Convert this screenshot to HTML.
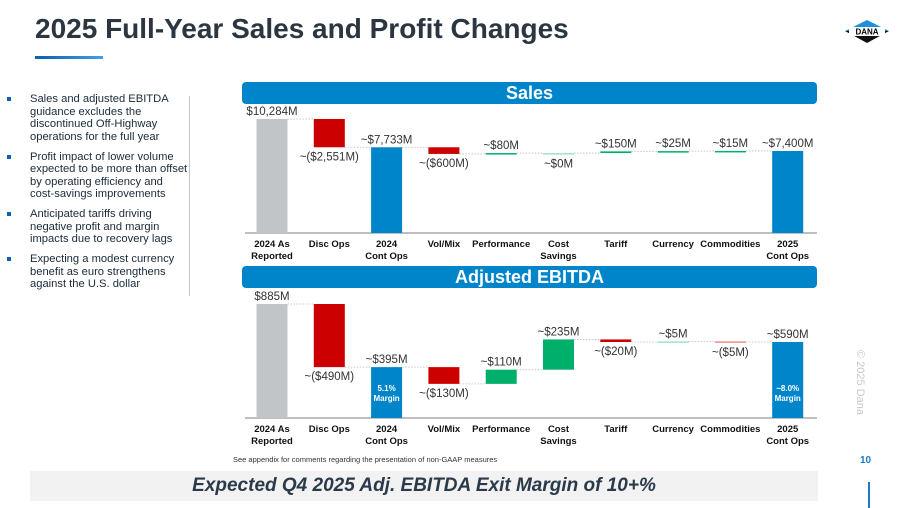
<!DOCTYPE html>
<html><head><meta charset="utf-8">
<style>
body{margin:0;width:900px;height:506px;overflow:hidden;background:#fff;font-family:"Liberation Sans",Arial,sans-serif;position:relative}
.abs{position:absolute}
#title{left:35px;top:13px;font-size:28px;font-weight:bold;color:#2b3640;white-space:nowrap}
#uline{left:35px;top:56px;width:68px;height:3px;background:linear-gradient(90deg,#0a5fb4,#3fa0e8)}
#bullets{left:7px;top:93px;width:185px;font-size:11.2px;line-height:12.5px;color:#1a2a3a;white-space:nowrap}
.b{position:relative;padding-left:23px;margin-bottom:7.5px}
.b:before{content:"";position:absolute;left:0;top:4px;width:4px;height:4px;background:#0f62b0}
#divider{left:189px;top:96px;width:1px;height:200px;background:#c8c8c8}
.hdr{left:242px;width:575px;height:22px;background:#0085ca;border-radius:4px;color:#fff;font-weight:bold;font-size:18px;text-align:center;line-height:22px}
#foot{left:233px;top:455px;font-size:7.5px;color:#333}
#banner{left:30px;top:471px;width:788px;height:30px;background:#f2f2f2;text-align:center;line-height:30px;font-size:19px;font-style:italic;font-weight:bold;color:#2b3a4a}
#pnum{left:860px;top:455px;font-size:10px;font-weight:bold;color:#1a7ac8}
#vbar{left:868px;top:482px;width:1.5px;height:26px;background:#1a7ac8}
#copy{left:866px;top:350px;font-size:11px;color:#c8c8c8;transform:rotate(90deg);transform-origin:left top;white-space:nowrap}
</style></head><body>
<div id="title" class="abs">2025 Full-Year Sales and Profit Changes</div>
<div id="uline" class="abs"></div>
<svg class="abs" style="left:843px;top:18px" width="48" height="26">
<polygon points="2,13 24,2 46,13" fill="#1e8fd8"/><polygon points="2,13 24,25 46,13" fill="#111"/>
<rect x="6" y="9" width="36" height="9" fill="#fff"/>
<text x="24" y="16.5" font-size="8" font-weight="bold" text-anchor="middle" font-family="Liberation Sans">DANA</text></svg>
<div id="bullets" class="abs">
<div class="b">Sales and adjusted EBITDA<br>guidance excludes the<br>discontinued Off-Highway<br>operations for the full year</div>
<div class="b">Profit impact of lower volume<br>expected to be more than offset<br>by operating efficiency and<br>cost-savings improvements</div>
<div class="b">Anticipated tariffs driving<br>negative profit and margin<br>impacts due to recovery lags</div>
<div class="b">Expecting a modest currency<br>benefit as euro strengthens<br>against the U.S. dollar</div>
</div>
<div id="divider" class="abs"></div>
<div class="abs hdr" style="top:82px">Sales</div>
<div class="abs hdr" style="top:266px">Adjusted EBITDA</div>
<svg id="chart" class="abs" style="left:0;top:0" width="900" height="506"></svg>
<div id="foot" class="abs">See appendix for comments regarding the presentation of non-GAAP measures</div>
<div id="banner" class="abs">Expected Q4 2025 Adj. EBITDA Exit Margin of 10+%</div>
<div id="pnum" class="abs">10</div>
<div id="vbar" class="abs"></div>
<div id="copy" class="abs">© 2025 Dana</div>
<script>
const categories = [["2024 As","Reported"],["Disc Ops",""],["2024","Cont Ops"],["Vol/Mix",""],["Performance",""],["Cost","Savings"],["Tariff",""],["Currency",""],["Commodities",""],["2025","Cont Ops"]];
const kinds = ["start","delta","total","delta","delta","delta","delta","delta","delta","total"];
const salesValues = [10284,-2551,7733,-600,80,0,150,25,15,7400];
const salesLabels = ["$10,284M","~($2,551M)","~$7,733M","~($600M)","~$80M","~$0M","~$150M","~$25M","~$15M","~$7,400M"];
const ebitdaValues = [885,-490,395,-130,110,235,-20,5,-5,590];
const ebitdaLabels = ["$885M","~($490M)","~$395M","~($130M)","~$110M","~$235M","~($20M)","~$5M","~($5M)","~$590M"];
const ebitdaInner = ["","","5.1%|Margin","","","","","","","~8.0%|Margin"];
const NS="http://www.w3.org/2000/svg";
const svg=document.getElementById('chart');
function mk(tag,attrs,parent){const e=document.createElementNS(NS,tag);for(const k in attrs)e.setAttribute(k,attrs[k]);(parent||svg).appendChild(e);return e;}
const x0=272, step=57.3, bw=31;
function xc(i){return x0+i*step;}
function drawChart(name,values,labels,inner,base,maxV,maxPx,smallColors){
  const g=mk('g',{});
  
  
  const y=v=>base-v*maxPx/maxV;
  const ax=mk('line',{x1:245,x2:817,y1:base,y2:base,stroke:'#999','stroke-width':1.2},g);
  
  
  let run=0;
  values.forEach((v,i)=>{
    let lo,hi,col;
    const k=kinds[i];
    if(k==='start'||k==='total'){lo=0;hi=v;col=k==='start'?'#c1c5c8':'#0085ca';run=v;}
    else{const a=run,b=run+v;lo=Math.min(a,b);hi=Math.max(a,b);run=b;
      col=v<0?'#cc0000':'#00b06a';
      if(smallColors&&Math.abs(v)<=10){col=v<0?'#f08c8c':'#9fe3c6';}}
    let top=y(hi),h=Math.max(y(lo)-y(hi),1.5);
    const r=mk('rect',{x:xc(i)-bw/2,y:top,width:bw,height:h,fill:col},g);
    
    
    if(i<values.length-1){
      const cl=mk('line',{x1:xc(i)+bw/2,x2:xc(i+1)-bw/2,y1:y(run),y2:y(run),stroke:'#bbb','stroke-width':0.8,'stroke-dasharray':'1.5,1.5'},g);
      
      
    }
    const below=(k==='delta'&&v<=0);
    const ty=below?top+h+13:top-4;
    const t=mk('text',{x:xc(i),y:ty,'text-anchor':'middle','font-size':11.5,fill:'#333'},g);
    t.textContent=labels[i];
    
    
    if(inner&&inner[i]){
      inner[i].split('|').forEach((s,j)=>{
        const it=mk('text',{x:xc(i),y:base-27+j*10,'text-anchor':'middle','font-size':8,'font-weight':'bold',fill:'#fff'},g);
        it.textContent=s;
        
        
      });
    }
    categories[i].forEach((s,j)=>{
      const c=mk('text',{x:xc(i),y:base+14+j*12,'text-anchor':'middle','font-size':9.5,'font-weight':'bold',fill:'#111'},g);
      c.textContent=s;
      
      
    });
  });
}
drawChart('sales',salesValues,salesLabels,null,233,10284,114,true);
drawChart('ebitda',ebitdaValues,ebitdaLabels,ebitdaInner,418,885,114,true);
</script>
</body></html>
